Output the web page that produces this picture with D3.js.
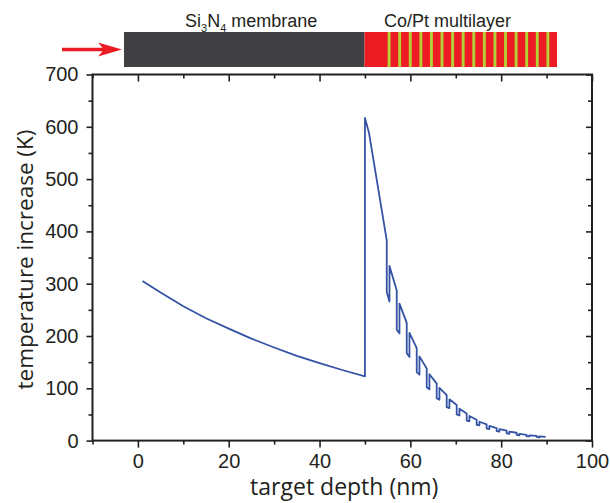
<!DOCTYPE html>
<html>
<head>
<meta charset="utf-8">
<script src="https://cdn.jsdelivr.net/npm/d3@7"></script>
<style>
    body { margin: 0; background: #fff; }
    svg { display: block; }
</style>
</head>
<body>
<div id="chart"></div>
<script>
// Si3N4 membrane part (depth nm, temperature K)
const siDepth = [1, 5, 10, 15, 20, 25, 30, 35, 40, 45, 50];
const siTemp = [305, 283, 257, 234, 214, 195, 178, 162, 148, 135, 123];

// first thick Pt layer on top of the membrane
const bufferDepth = [50, 50.9, 54.8];
const bufferTemp = [617, 588, 383];

// Co/Pt repeats
const coStart = [54.8, 57.0, 59.2, 61.4, 63.6, 65.8, 68.0, 70.2, 72.4, 74.6, 76.8, 79.0, 81.2, 83.4, 85.6, 87.8];
const coEnd = [55.4, 57.6, 59.8, 62.0, 64.2, 66.4, 68.6, 70.8, 73.0, 75.2, 77.4, 79.6, 81.8, 84.0, 86.2, 88.4];
const ptEnd = [57.0, 59.2, 61.4, 63.6, 65.8, 68.0, 70.2, 72.4, 74.6, 76.8, 79.0, 81.2, 83.4, 85.6, 87.8, 89.8];
const coTempStart = [284, 212, 167, 131, 102, 81, 64, 50, 38, 30, 23, 18, 14, 11, 8, 7];
const coTempEnd = [266, 205, 160, 126, 98, 78, 62, 48, 37, 29, 22, 17, 13, 10, 8, 6];
const ptTempStart = [334, 262, 206, 161, 127, 101, 79, 61, 47, 36, 28, 22, 17, 13, 10, 8];
const ptTempEnd = [287, 225, 177, 138, 109, 87, 68, 52, 40, 31, 24, 19, 15, 11, 9, 7];

const xTicks = [0, 20, 40, 60, 80, 100];
const xMinor = [-10, 10, 30, 50, 70, 90];
const yTicks = [0, 100, 200, 300, 400, 500, 600, 700];
const yMinor = [50, 150, 250, 350, 450, 550, 650];

const width = 610;
const height = 503;
const ink = "#231f20";
const blue = "#3553a5";
const red = "#ed1c24";
const green = "#b2d235";
const grey = "#414042";

const svg = d3.select("#chart")
    .append("svg")
    .attr("width", width)
    .attr("height", height);

const x = d3.scaleLinear().domain([-10, 100]).range([92.5, 592]);
const y = d3.scaleLinear().domain([0, 700]).range([440.6, 74.5]);

// points of the profile
const points = siDepth.map((d, i) => [d, siTemp[i]]);
bufferDepth.forEach((d, i) => points.push([d, bufferTemp[i]]));
coStart.forEach((d, i) => {
    points.push([d, coTempStart[i]]);
    points.push([coEnd[i], coTempEnd[i]]);
    points.push([coEnd[i], ptTempStart[i]]);
    points.push([ptEnd[i], ptTempEnd[i]]);
});

svg.append("path")
    .datum(points)
    .attr("fill", "none")
    .attr("stroke", blue)
    .attr("stroke-width", 1.8)
    .attr("stroke-linejoin", "round")
    .attr("d", d3.line().x(d => x(d[0])).y(d => y(d[1])));

// axes
const tickFont = "'Liberation Sans', Arial, sans-serif";

const axisBottom = svg.append("g").attr("transform", `translate(0,${y(0)})`)
    .call(d3.axisBottom(x).tickValues(xTicks).tickSize(7).tickPadding(6));
const axisBottomMinor = svg.append("g").attr("transform", `translate(0,${y(0)})`)
    .call(d3.axisBottom(x).tickValues(xMinor).tickSize(4).tickFormat(""));
const axisTop = svg.append("g").attr("transform", `translate(0,${y(700)})`)
    .call(d3.axisBottom(x).tickValues(xTicks).tickSize(7).tickFormat(""));
const axisTopMinor = svg.append("g").attr("transform", `translate(0,${y(700)})`)
    .call(d3.axisBottom(x).tickValues(xMinor).tickSize(4).tickFormat(""));
const axisLeft = svg.append("g").attr("transform", `translate(${x(-10)},0)`)
    .call(d3.axisLeft(y).tickValues(yTicks).tickSize(6).tickPadding(8));
const axisLeftMinor = svg.append("g").attr("transform", `translate(${x(-10)},0)`)
    .call(d3.axisLeft(y).tickValues(yMinor).tickSize(4).tickFormat(""));
const axisRight = svg.append("g").attr("transform", `translate(${x(100)},0)`)
    .call(d3.axisLeft(y).tickValues(yTicks).tickSize(6).tickFormat(""));
const axisRightMinor = svg.append("g").attr("transform", `translate(${x(100)},0)`)
    .call(d3.axisLeft(y).tickValues(yMinor).tickSize(4).tickFormat(""));

[axisBottom, axisBottomMinor, axisTop, axisTopMinor, axisLeft, axisLeftMinor, axisRight, axisRightMinor].forEach(g => {
    g.select(".domain").remove();
    g.selectAll(".tick line").attr("stroke", ink).attr("stroke-width", 1.6);
    g.selectAll(".tick text")
        .attr("fill", ink)
        .style("font-family", tickFont)
        .style("font-size", "20px");
});

svg.append("rect")
    .attr("x", x(-10))
    .attr("y", y(700))
    .attr("width", x(100) - x(-10))
    .attr("height", y(0) - y(700))
    .attr("fill", "none")
    .attr("stroke", ink)
    .attr("stroke-width", 2);

// axis titles
const titleFont = "'Open Sans', 'Noto Sans', sans-serif";

svg.append("text")
    .attr("x", (x(-10) + x(100)) / 2 + 2)
    .attr("y", 495)
    .attr("text-anchor", "middle")
    .attr("fill", ink)
    .style("font-family", titleFont)
    .style("font-size", "23px")
    .text("target depth (nm)");

svg.append("text")
    .attr("transform", `translate(33,${(y(0) + y(700)) / 2 + 2}) rotate(-90)`)
    .attr("text-anchor", "middle")
    .attr("fill", ink)
    .style("font-family", titleFont)
    .style("font-size", "22.5px")
    .text("temperature increase (K)");

// sample sketch on top
const barX = d3.scaleLinear().domain([0, 90]).range([124, 557]);
const barTop = 32;
const barHeight = 35;

svg.append("rect")
    .attr("x", barX(0))
    .attr("y", barTop)
    .attr("width", barX(50) - barX(0))
    .attr("height", barHeight)
    .attr("fill", grey);

svg.append("rect")
    .attr("x", barX(50))
    .attr("y", barTop)
    .attr("width", barX(90) - barX(50))
    .attr("height", barHeight)
    .attr("fill", red);

svg.selectAll(".co-layer")
    .data(coStart)
    .join("rect")
        .attr("class", "co-layer")
        .attr("x", d => barX(d))
        .attr("y", barTop)
        .attr("width", (d, i) => barX(coEnd[i]) - barX(d))
        .attr("height", barHeight)
        .attr("fill", green);

// incoming beam arrow
const arrowY = barTop + barHeight / 2;
svg.append("line")
    .attr("x1", 62)
    .attr("x2", 108)
    .attr("y1", arrowY)
    .attr("y2", arrowY)
    .attr("stroke", red)
    .attr("stroke-width", 3.5);

svg.append("path")
    .attr("d", `M122,${arrowY} L98,${arrowY - 7} L104,${arrowY} L98,${arrowY + 7} Z`)
    .attr("fill", red);

const si = svg.append("text")
    .attr("x", 185)
    .attr("y", 27)
    .attr("fill", ink)
    .style("font-family", tickFont)
    .style("font-size", "18px");
si.append("tspan").text("Si");
si.append("tspan").attr("dy", 5).style("font-size", "11px").text("3");
si.append("tspan").attr("dy", -5).text("N");
si.append("tspan").attr("dy", 5).style("font-size", "11px").text("4");
si.append("tspan").attr("dy", -5).text(" membrane");

svg.append("text")
    .attr("x", 384)
    .attr("y", 27)
    .attr("fill", ink)
    .style("font-family", tickFont)
    .style("font-size", "18px")
    .text("Co/Pt multilayer");
</script>
</body>
</html>
